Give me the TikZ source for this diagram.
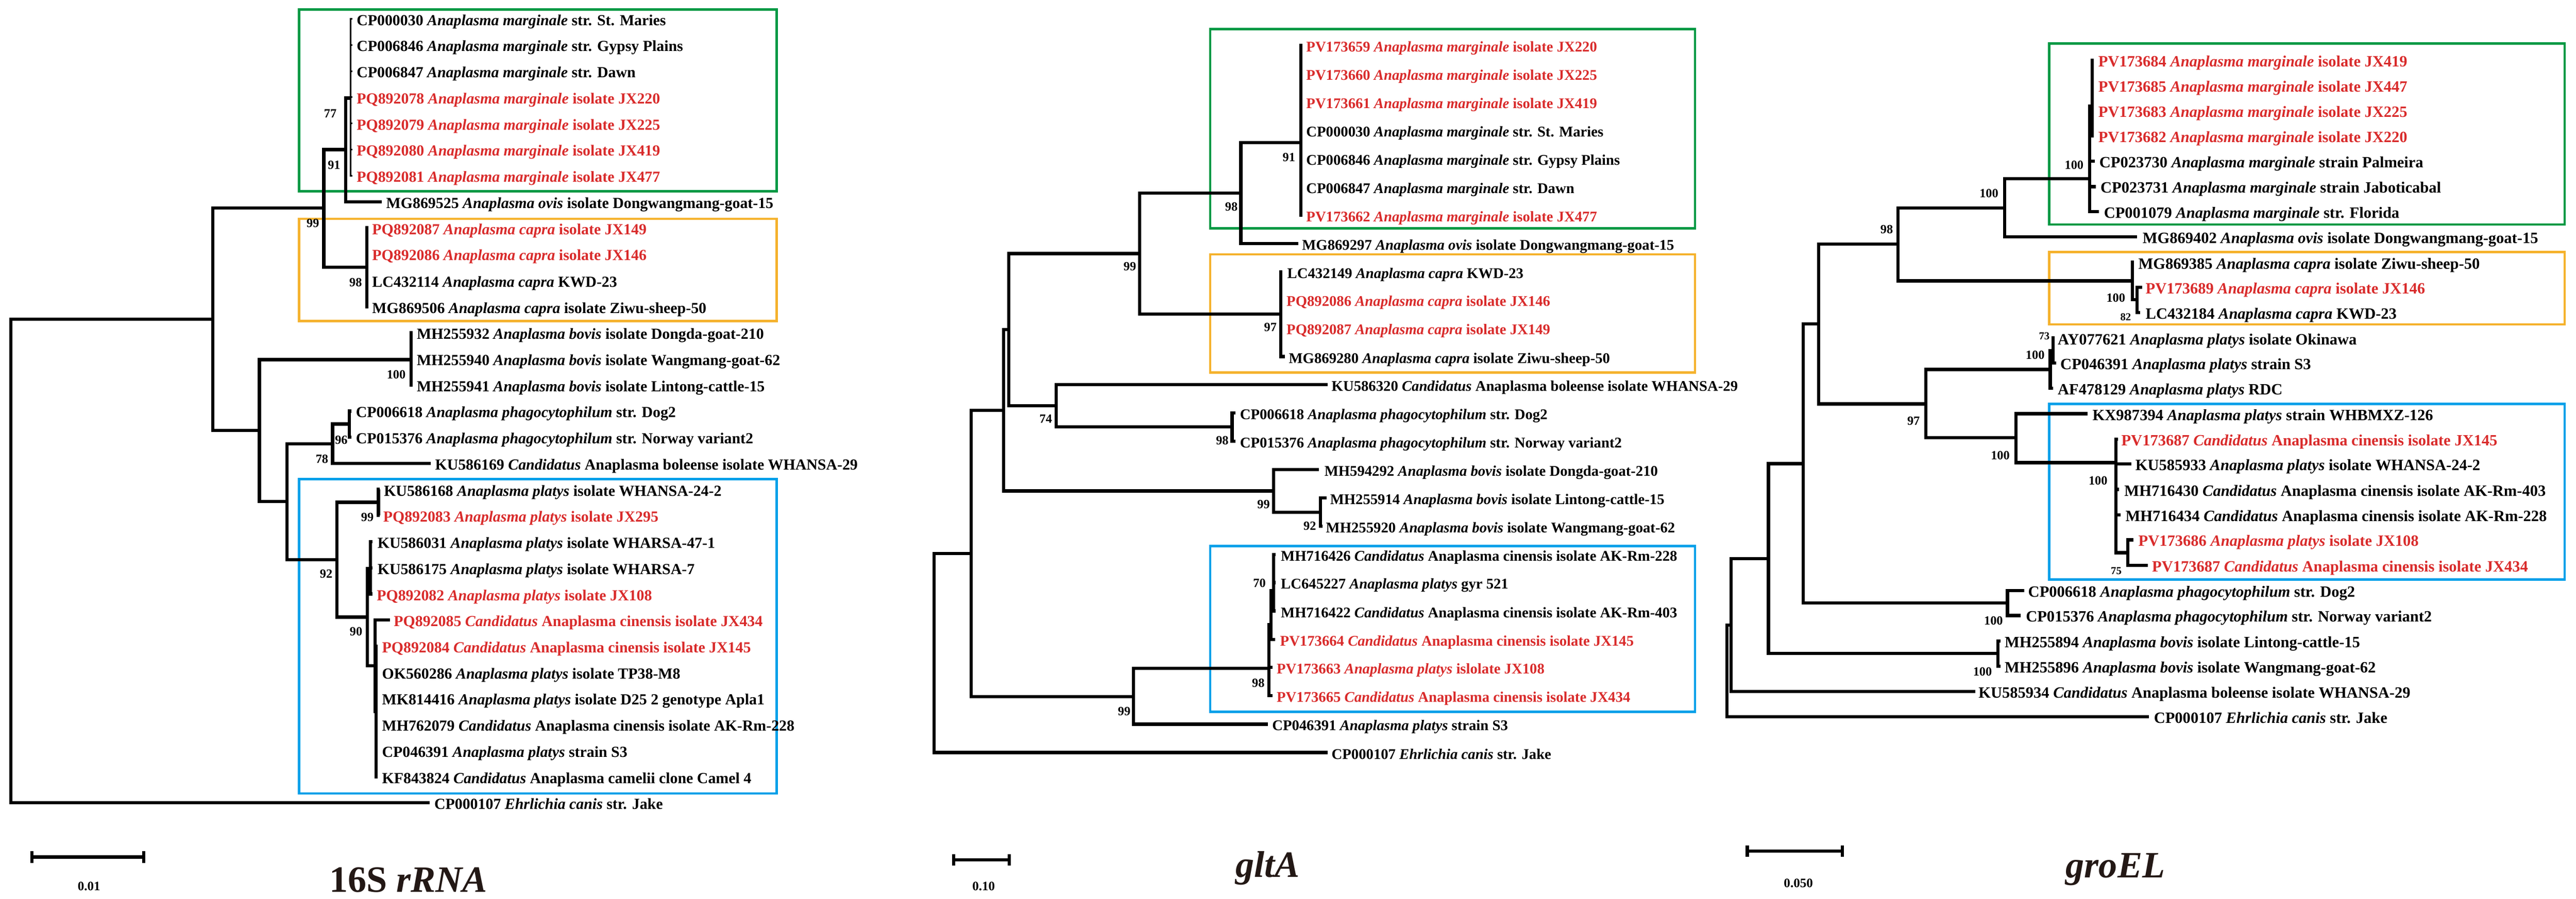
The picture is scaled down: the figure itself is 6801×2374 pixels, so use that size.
\documentclass[tikz,border=0pt]{standalone}
\usepackage{fontspec}
\setmainfont{Liberation Serif}
\definecolor{tred}{HTML}{D92B2B}
\definecolor{bgreen}{HTML}{009944}
\definecolor{borange}{HTML}{F5B22D}
\definecolor{bblue}{HTML}{00A0E9}
\definecolor{ttlc}{HTML}{231815}
\newcommand\Ana[1]{\textit{Anaplasma #1}}
\newcommand\Cand{\textit{Candidatus}}
\newcommand\leafnode[7]{\coordinate (#2) at (#3,#4);\node[#1,text=#6] (#2t) at (#5,#4+17) {#7};}
\newcommand\kids[2]{\foreach \c in {#2}{\draw[br] (#1) |- (\c);}}
\newcommand\kidsthin[2]{\foreach \c in {#2}{\draw[br,brthin] (#1) |- (\c);}}
\begin{document}
\begin{tikzpicture}[x=0.01cm,y=-0.01cm]
\tikzset{
 br/.style={line width=0.085cm, line join=miter},
 brthin/.style={line width=0.04cm},
 fA/.style={inner sep=0pt, anchor=base west, font=\fontsize{11.55}{13}\selectfont\bfseries},
 fB/.style={inner sep=0pt, anchor=base west, font=\fontsize{11.1}{13}\selectfont\bfseries},
 fC/.style={inner sep=0pt, anchor=base west, font=\fontsize{11.8}{13}\selectfont\bfseries},
 bs/.style={inner sep=0pt, font=\fontsize{9.4}{11}\selectfont\bfseries},
 bss/.style={inner sep=0pt, font=\fontsize{8}{9}\selectfont\bfseries},
 sbl/.style={inner sep=0pt, font=\fontsize{9.7}{11}\selectfont\bfseries},
 ttl/.style={inner sep=0pt, anchor=base, text=ttlc, font=\fontsize{27.9}{30}\selectfont\bfseries},
 boxln/.style={line width=0.065cm},
}
\useasboundingbox (0,0) rectangle (6801,2374);
\fill[white] (0,0) rectangle (6801,2374);

% ---------- boxes ----------
\draw[boxln,bgreen] (790,25) rectangle (2050,505);
\draw[boxln,borange] (790,578) rectangle (2050,848);
\draw[boxln,bblue] (790,1266) rectangle (2050,2096);
\draw[boxln,bgreen] (3195,77) rectangle (4475,603);
\draw[boxln,borange] (3195,672) rectangle (4475,984);
\draw[boxln,bblue] (3195,1442) rectangle (4475,1880);
\draw[boxln,bgreen] (5410,115) rectangle (6771,593);
\draw[boxln,borange] (5410,666) rectangle (6771,857);
\draw[boxln,bblue] (5410,1067) rectangle (6771,1531);

% ================= Tree 1 : 16S rRNA =================
\leafnode{fA}{a0}{930}{50}{941}{black}{CP000030 \Ana{marginale} str. St. Maries}
\leafnode{fA}{a1}{930}{119}{941}{black}{CP006846 \Ana{marginale} str. Gypsy Plains}
\leafnode{fA}{a2}{930}{188}{941}{black}{CP006847 \Ana{marginale} str. Dawn}
\leafnode{fA}{a3}{930}{257}{941}{tred}{PQ892078 \Ana{marginale} isolate JX220}
\leafnode{fA}{a4}{930}{326}{941}{tred}{PQ892079 \Ana{marginale} isolate JX225}
\leafnode{fA}{a5}{930}{395}{941}{tred}{PQ892080 \Ana{marginale} isolate JX419}
\leafnode{fA}{a6}{930}{464}{941}{tred}{PQ892081 \Ana{marginale} isolate JX477}
\leafnode{fA}{a7}{1008}{533}{1019}{black}{MG869525 \Ana{ovis} isolate Dongwangmang-goat-15}
\leafnode{fA}{a8}{972}{602}{982}{tred}{PQ892087 \Ana{capra} isolate JX149}
\leafnode{fA}{a9}{972}{671}{982}{tred}{PQ892086 \Ana{capra} isolate JX146}
\leafnode{fA}{a10}{972}{741}{982}{black}{LC432114 \Ana{capra} KWD-23}
\leafnode{fA}{a11}{972}{810}{982}{black}{MG869506 \Ana{capra} isolate Ziwu-sheep-50}
\leafnode{fA}{a12}{1090}{879}{1100}{black}{MH255932 \Ana{bovis} isolate Dongda-goat-210}
\leafnode{fA}{a13}{1090}{948}{1100}{black}{MH255940 \Ana{bovis} isolate Wangmang-goat-62}
\leafnode{fA}{a14}{1090}{1017}{1100}{black}{MH255941 \Ana{bovis} isolate Lintong-cattle-15}
\leafnode{fA}{a15}{928}{1086}{939}{black}{CP006618 \Ana{phagocytophilum} str. Dog2}
\leafnode{fA}{a16}{928}{1155}{939}{black}{CP015376 \Ana{phagocytophilum} str. Norway variant2}
\leafnode{fA}{a17}{1137}{1224}{1148}{black}{KU586169 \Cand{} Anaplasma boleense isolate WHANSA-29}
\leafnode{fA}{a18}{1003}{1293}{1013}{black}{KU586168 \Ana{platys} isolate WHANSA-24-2}
\leafnode{fA}{a19}{1003}{1362}{1011}{tred}{PQ892083 \Ana{platys} isolate JX295}
\leafnode{fA}{a20}{983}{1431}{996}{black}{KU586031 \Ana{platys} isolate WHARSA-47-1}
\leafnode{fA}{a21}{983}{1500}{996}{black}{KU586175 \Ana{platys} isolate WHARSA-7}
\leafnode{fA}{a22}{983}{1569}{994}{tred}{PQ892082 \Ana{platys} isolate JX108}
\leafnode{fA}{a23}{1030}{1638}{1039}{tred}{PQ892085 \Cand{} Anaplasma cinensis isolate JX434}
\leafnode{fA}{a24}{997}{1707}{1008}{tred}{PQ892084 \Cand{} Anaplasma cinensis isolate JX145}
\leafnode{fA}{a25}{997}{1776}{1008}{black}{OK560286 \Ana{platys} isolate TP38-M8}
\leafnode{fA}{a26}{997}{1845}{1008}{black}{MK814416 \Ana{platys} isolate D25 2 genotype Apla1}
\leafnode{fA}{a27}{997}{1914}{1008}{black}{MH762079 \Cand{} Anaplasma cinensis isolate AK-Rm-228}
\leafnode{fA}{a28}{997}{1983}{1008}{black}{CP046391 \Ana{platys} strain S3}
\leafnode{fA}{a29}{997}{2052}{1008}{black}{KF843824 \Cand{} Anaplasma camelii clone Camel 4}
\leafnode{fA}{a30}{1134}{2121}{1146}{black}{CP000107 \textit{Ehrlichia canis} str. Jake}

\coordinate (A1) at (925,259);
\coordinate (B1) at (913,395);
\coordinate (D1) at (968,706);
\coordinate (C1) at (855,550);
\coordinate (E1) at (1085,950);
\coordinate (G1) at (922,1120);
\coordinate (F1) at (878,1172);
\coordinate (I1) at (999,1327);
\coordinate (K1) at (978,1502);
\coordinate (L2) at (993,1880);
\coordinate (L1) at (990,1759);
\coordinate (J1) at (970,1630);
\coordinate (H1) at (890,1478);
\coordinate (M1) at (758,1325);
\coordinate (N1) at (685,1137);
\coordinate (O1) at (562,843);
\coordinate (R1) at (29,1482);

\kidsthin{A1}{a0,a1,a2,a3,a4,a5,a6}
\kids{B1}{A1,a7}
\kids{D1}{a8,a9,a10,a11}
\kids{C1}{B1,D1}
\kids{E1}{a12,a13,a14}
\kids{G1}{a15,a16}
\kids{F1}{G1,a17}
\kids{I1}{a18,a19}
\kids{K1}{a20,a21,a22}
\kids{L2}{a24,a25,a26,a27,a28,a29}
\kids{L1}{a23,L2}
\kids{J1}{K1,L1}
\kids{H1}{I1,J1}
\kids{M1}{F1,H1}
\kids{N1}{E1,M1}
\kids{O1}{C1,N1}
\kids{R1}{O1,a30}

\node[bs] (s11) at (872,300) {77};
\node[bs] (s12) at (882,436) {91};
\node[bs] (s13) at (826,590) {99};
\node[bs] (s14) at (939,746) {98};
\node[bs] (s15) at (1046,989) {100};
\node[bs] (s16) at (901,1163) {96};
\node[bs] (s17) at (850,1212) {78};
\node[bs] (s18) at (970,1367) {99};
\node[bs] (s19) at (861,1516) {92};
\node[bs] (s110) at (940,1668) {90};

% ================= Tree 2 : gltA =================
\leafnode{fB}{b0}{3438}{120}{3448}{tred}{PV173659 \Ana{marginale} isolate JX220}
\leafnode{fB}{b1}{3438}{195}{3448}{tred}{PV173660 \Ana{marginale} isolate JX225}
\leafnode{fB}{b2}{3438}{269}{3448}{tred}{PV173661 \Ana{marginale} isolate JX419}
\leafnode{fB}{b3}{3438}{344}{3448}{black}{CP000030 \Ana{marginale} str. St. Maries}
\leafnode{fB}{b4}{3438}{419}{3448}{black}{CP006846 \Ana{marginale} str. Gypsy Plains}
\leafnode{fB}{b5}{3438}{494}{3448}{black}{CP006847 \Ana{marginale} str. Dawn}
\leafnode{fB}{b6}{3438}{568}{3448}{tred}{PV173662 \Ana{marginale} isolate JX477}
\leafnode{fB}{b7}{3427}{643}{3437}{black}{MG869297 \Ana{ovis} isolate Dongwangmang-goat-15}
\leafnode{fB}{b8}{3385}{718}{3398}{black}{LC432149 \Ana{capra} KWD-23}
\leafnode{fB}{b9}{3385}{792}{3396}{tred}{PQ892086 \Ana{capra} isolate JX146}
\leafnode{fB}{b10}{3385}{867}{3396}{tred}{PQ892087 \Ana{capra} isolate JX149}
\leafnode{fB}{b11}{3392}{942}{3402}{black}{MG869280 \Ana{capra} isolate Ziwu-sheep-50}
\leafnode{fB}{b12}{3505}{1016}{3515}{black}{KU586320 \Cand{} Anaplasma boleense isolate WHANSA-29}
\leafnode{fB}{b13}{3262}{1091}{3273}{black}{CP006618 \Ana{phagocytophilum} str. Dog2}
\leafnode{fB}{b14}{3262}{1166}{3273}{black}{CP015376 \Ana{phagocytophilum} str. Norway variant2}
\leafnode{fB}{b15}{3482}{1240}{3496}{black}{MH594292 \Ana{bovis} isolate Dongda-goat-210}
\leafnode{fB}{b16}{3502}{1315}{3511}{black}{MH255914 \Ana{bovis} isolate Lintong-cattle-15}
\leafnode{fB}{b17}{3491}{1390}{3500}{black}{MH255920 \Ana{bovis} isolate Wangmang-goat-62}
\leafnode{fB}{b18}{3368}{1465}{3381}{black}{MH716426 \Cand{} Anaplasma cinensis isolate AK-Rm-228}
\leafnode{fB}{b19}{3368}{1539}{3381}{black}{LC645227 \Ana{platys} gyr 521}
\leafnode{fB}{b20}{3368}{1614}{3381}{black}{MH716422 \Cand{} Anaplasma cinensis isolate AK-Rm-403}
\leafnode{fB}{b21}{3366}{1689}{3379}{tred}{PV173664 \Cand{} Anaplasma cinensis isolate JX145}
\leafnode{fB}{b22}{3360}{1763}{3370}{tred}{PV173663 \Ana{platys} islolate JX108}
\leafnode{fB}{b23}{3360}{1838}{3370}{tred}{PV173665 \Cand{} Anaplasma cinensis isolate JX434}
\leafnode{fB}{b24}{3347}{1913}{3358}{black}{CP046391 \Ana{platys} strain S3}
\leafnode{fB}{b25}{3505}{1988}{3515}{black}{CP000107 \textit{Ehrlichia canis} str. Jake}

\coordinate (T2a) at (3434,377);
\coordinate (T2b) at (3276,510);
\coordinate (T2e) at (3381,830);
\coordinate (T2c) at (3009,670);
\coordinate (T2g) at (3253,1128);
\coordinate (T2f) at (2788,1072);
\coordinate (T2d) at (2663,871);
\coordinate (T2j) at (3486,1353);
\coordinate (T2i) at (3362,1297);
\coordinate (T2h) at (2650,1084);
\coordinate (T2o) at (3362,1560);
\coordinate (T2n) at (3356,1650);
\coordinate (T2m) at (3350,1766);
\coordinate (T2l) at (2992,1840);
\coordinate (T2k) at (2564,1462);
\coordinate (T2r) at (2466,1725);

\kids{T2a}{b0,b1,b2,b3,b4,b5,b6}
\kids{T2b}{T2a,b7}
\kids{T2e}{b8,b9,b10,b11}
\kids{T2c}{T2b,T2e}
\kids{T2g}{b13,b14}
\kids{T2f}{b12,T2g}
\kids{T2d}{T2c,T2f}
\kids{T2j}{b16,b17}
\kids{T2i}{b15,T2j}
\kids{T2h}{T2d,T2i}
\kids{T2o}{b18,b19,b20}
\kids{T2n}{T2o,b21}
\kids{T2m}{T2n,b22,b23}
\kids{T2l}{T2m,b24}
\kids{T2k}{T2h,T2l}
\kids{T2r}{T2k,b25}

\node[bs] (s21) at (3403,416) {91};
\node[bs] (s22) at (3251,546) {98};
\node[bs] (s23) at (2983,704) {99};
\node[bs] (s24) at (3354,864) {97};
\node[bs] (s25) at (2761,1106) {74};
\node[bs] (s26) at (3227,1163) {98};
\node[bs] (s27) at (3336,1332) {99};
\node[bs] (s28) at (3458,1390) {92};
\node[bs] (s29) at (3325,1540) {70};
\node[bs] (s210) at (3322,1804) {98};
\node[bs] (s211) at (2968,1879) {99};

% ================= Tree 3 : groEL =================
\leafnode{fC}{c0}{5528}{159}{5539}{tred}{PV173684 \Ana{marginale} isolate JX419}
\leafnode{fC}{c1}{5528}{226}{5539}{tred}{PV173685 \Ana{marginale} isolate JX447}
\leafnode{fC}{c2}{5528}{292}{5539}{tred}{PV173683 \Ana{marginale} isolate JX225}
\leafnode{fC}{c3}{5528}{359}{5539}{tred}{PV173682 \Ana{marginale} isolate JX220}
\leafnode{fC}{c4}{5530}{426}{5542}{black}{CP023730 \Ana{marginale} strain Palmeira}
\leafnode{fC}{c5}{5533}{493}{5545}{black}{CP023731 \Ana{marginale} strain Jaboticabal}
\leafnode{fC}{c6}{5541}{559}{5554}{black}{CP001079 \Ana{marginale} str. Florida}
\leafnode{fC}{c7}{5642}{626}{5656}{black}{MG869402 \Ana{ovis} isolate Dongwangmang-goat-15}
\leafnode{fC}{c8}{5634}{693}{5645}{black}{MG869385 \Ana{capra} isolate Ziwu-sheep-50}
\leafnode{fC}{c9}{5655}{759}{5664}{tred}{PV173689 \Ana{capra} isolate JX146}
\leafnode{fC}{c10}{5650}{826}{5664}{black}{LC432184 \Ana{capra} KWD-23}
\leafnode{fC}{c11}{5424}{893}{5432}{black}{AY077621 \Ana{platys} isolate Okinawa}
\leafnode{fC}{c12}{5428}{959}{5439}{black}{CP046391 \Ana{platys} strain S3}
\leafnode{fC}{c13}{5420}{1026}{5432}{black}{AF478129 \Ana{platys} RDC}
\leafnode{fC}{c14}{5512}{1093}{5524}{black}{KX987394 \Ana{platys} strain WHBMXZ-126}
\leafnode{fC}{c15}{5592}{1160}{5600}{tred}{PV173687 \Cand{} Anaplasma cinensis isolate JX145}
\leafnode{fC}{c16}{5627}{1226}{5637}{black}{KU585933 \Ana{platys} isolate WHANSA-24-2}
\leafnode{fC}{c17}{5595}{1293}{5608}{black}{MH716430 \Cand{} Anaplasma cinensis isolate AK-Rm-403}
\leafnode{fC}{c18}{5598}{1360}{5611}{black}{MH716434 \Cand{} Anaplasma cinensis isolate AK-Rm-228}
\leafnode{fC}{c19}{5633}{1426}{5645}{tred}{PV173686 \Ana{platys} isolate JX108}
\leafnode{fC}{c20}{5671}{1493}{5681}{tred}{PV173687 \Cand{} Anaplasma cinensis isolate JX434}
\leafnode{fC}{c21}{5344}{1560}{5354}{black}{CP006618 \Ana{phagocytophilum} str. Dog2}
\leafnode{fC}{c22}{5334}{1626}{5348}{black}{CP015376 \Ana{phagocytophilum} str. Norway variant2}
\leafnode{fC}{c23}{5282}{1693}{5292}{black}{MH255894 \Ana{bovis} isolate Lintong-cattle-15}
\leafnode{fC}{c24}{5282}{1760}{5292}{black}{MH255896 \Ana{bovis} isolate Wangmang-goat-62}
\leafnode{fC}{c25}{5215}{1827}{5223}{black}{KU585934 \Cand{} Anaplasma boleense isolate WHANSA-29}
\leafnode{fC}{c26}{5674}{1893}{5686}{black}{CP000107 \textit{Ehrlichia canis} str. Jake}

\coordinate (Ua1) at (5524,280);
\coordinate (Ua) at (5517,472);
\coordinate (Ub) at (5292,549);
\coordinate (Ue) at (5642,792);
\coordinate (Ud) at (5630,742);
\coordinate (Uc) at (5011,645);
\coordinate (Uh2) at (5420,926);
\coordinate (Uh) at (5413,976);
\coordinate (Ul) at (5618,1460);
\coordinate (Uj) at (5586,1222);
\coordinate (Ui) at (5322,1156);
\coordinate (Ug) at (5084,1067);
\coordinate (Uf) at (4801,856);
\coordinate (Un) at (5300,1593);
\coordinate (Um) at (4761,1225);
\coordinate (Up) at (5275,1726);
\coordinate (Uo) at (4669,1476);
\coordinate (Uq) at (4570,1651);
\coordinate (Ur) at (4559,1772);

\kids{Ua1}{c0,c1,c2,c3}
\kids{Ua}{Ua1,c4,c5,c6}
\kids{Ub}{Ua,c7}
\kids{Ue}{c9,c10}
\kids{Ud}{c8,Ue}
\kids{Uc}{Ub,Ud}
\kids{Uh2}{c11,c12}
\kids{Uh}{Uh2,c13}
\kids{Ul}{c19,c20}
\kids{Uj}{c15,c16,c17,c18,Ul}
\kids{Ui}{c14,Uj}
\kids{Ug}{Uh,Ui}
\kids{Uf}{Uc,Ug}
\kids{Un}{c21,c22}
\kids{Um}{Uf,Un}
\kids{Up}{c23,c24}
\kids{Uo}{Um,Up}
\kids{Uq}{Uo,c25}
\kids{Ur}{Uq,c26}

\node[bs] (s31) at (5476,436) {100};
\node[bs] (s32) at (5251,511) {100};
\node[bs] (s33) at (4981,606) {98};
\node[bs] (s34) at (5586,787) {100};
\node[bss] (s35) at (5612,837) {82};
\node[bss] (s36) at (5397,888) {73};
\node[bs] (s37) at (5373,938) {100};
\node[bs] (s38) at (5052,1112) {97};
\node[bs] (s39) at (5281,1203) {100};
\node[bs] (s310) at (5539,1270) {100};
\node[bss] (s311) at (5587,1508) {75};
\node[bs] (s312) at (5263,1640) {100};
\node[bs] (s313) at (5234,1775) {100};

% ---------- scale bars ----------
\coordinate (sb1a) at (84,2264); \coordinate (sb1b) at (379,2264);
\draw[br] (sb1a) -- (sb1b);
\draw[br] (sb1a) ++(0,-15) -- ++(0,30);
\draw[br] (sb1b) ++(0,-15) -- ++(0,30);
\node[sbl] (sl1) at (235,2341) {0.01};
\coordinate (sb2a) at (2518,2271); \coordinate (sb2b) at (2665,2271);
\draw[br] (sb2a) -- (sb2b);
\draw[br] (sb2a) ++(0,-15) -- ++(0,30);
\draw[br] (sb2b) ++(0,-15) -- ++(0,30);
\node[sbl] (sl2) at (2597,2341) {0.10};
\coordinate (sb3a) at (4613,2248); \coordinate (sb3b) at (4864,2248);
\draw[br] (sb3a) -- (sb3b);
\draw[br] (sb3a) ++(0,-15) -- ++(0,30);
\draw[br] (sb3b) ++(0,-15) -- ++(0,30);
\node[sbl] (sl3) at (4748,2333) {0.050};

% ---------- titles ----------
\node[ttl] (t1) at (1078,2356) {16S \textit{rRNA}};
\node[ttl] (t2) at (3347,2317) {\textit{gltA}};
\node[ttl] (t3) at (5585,2318) {\textit{groEL}};
\end{tikzpicture}
\end{document}
